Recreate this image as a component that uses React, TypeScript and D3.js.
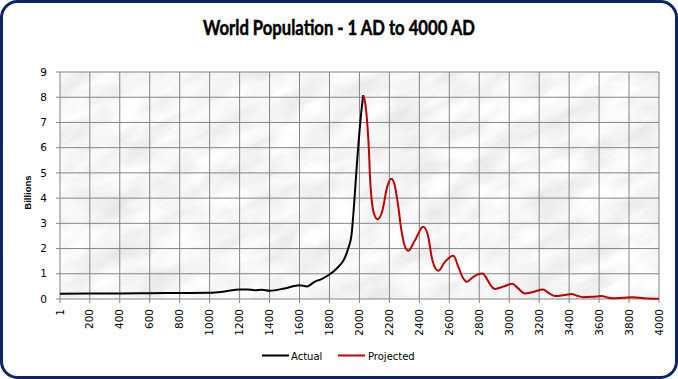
import React from "react";
import * as d3 from "d3";

const actualYears = [1, 200, 400, 600, 800, 1000, 1100, 1200, 1250, 1300, 1350, 1400, 1500, 1600, 1650, 1700, 1750, 1800, 1850, 1900, 1925, 1947, 1965, 1981, 2008, 2025];
const actualValues = [0.21, 0.22, 0.22, 0.23, 0.24, 0.25, 0.3, 0.38, 0.38, 0.35, 0.37, 0.33, 0.42, 0.55, 0.5, 0.68, 0.8, 0.97, 1.22, 1.6, 2.0, 2.53, 3.8, 5.17, 7.14, 8.08];

const projectedYears = [2025, 2044, 2055, 2064, 2070, 2081, 2097, 2121, 2154, 2185, 2214, 2236, 2258, 2282, 2300, 2326, 2371, 2426, 2460, 2482, 2500, 2526, 2571, 2627, 2660, 2690, 2716, 2760, 2822, 2849, 2875, 2905, 2960, 3020, 3060, 3105, 3160, 3227, 3260, 3305, 3360, 3417, 3450, 3494, 3560, 3617, 3650, 3694, 3760, 3828, 3900, 4000];
const projectedValues = [8.08, 7.53, 6.75, 5.82, 4.9, 3.98, 3.39, 3.16, 3.52, 4.44, 4.77, 4.5, 3.72, 2.66, 2.15, 1.91, 2.33, 2.86, 2.46, 1.67, 1.3, 1.12, 1.47, 1.71, 1.28, 0.85, 0.68, 0.88, 1.01, 0.82, 0.55, 0.4, 0.49, 0.6, 0.42, 0.22, 0.28, 0.38, 0.25, 0.12, 0.15, 0.2, 0.14, 0.07, 0.09, 0.12, 0.07, 0.03, 0.05, 0.07, 0.03, 0.01];

const xTickValues = [1, 200, 400, 600, 800, 1000, 1200, 1400, 1600, 1800, 2000, 2200, 2400, 2600, 2800, 3000, 3200, 3400, 3600, 3800, 4000];
const yTickValues = [0, 1, 2, 3, 4, 5, 6, 7, 8, 9];

const title = "World Population - 1 AD to 4000 AD";
const yTitle = "Billions";
const seriesNames = ["Actual", "Projected"];

export default function App() {
  const W = 678, H = 379;
  const left = 60, right = 659, top = 72, bottom = 299;
  const x = d3.scaleLinear().domain([1, 4000]).range([left, right]);
  const y = d3.scaleLinear().domain([0, 9]).range([bottom, top]);
  const line = d3.line<[number, number]>().x(d => x(d[0])).y(d => y(d[1])).curve(d3.curveMonotoneX);
  const actual = actualYears.map((yr, i) => [yr, actualValues[i]] as [number, number]);
  const projected = projectedYears.map((yr, i) => [yr, projectedValues[i]] as [number, number]);
  const font = "'DejaVu Sans', Tahoma, sans-serif";
  const grid = "#858585";
  return (
    <svg width={W} height={H} style={{ position: "absolute", left: 0, top: 0, background: "#fff" }}>
      <defs>
        <filter id="marble" x="0" y="0" width="100%" height="100%">
          <feTurbulence type="fractalNoise" baseFrequency="0.02 0.045" numOctaves={4} seed={11} />
          <feColorMatrix type="matrix" values="0.32 0 0 0 0.76  0.32 0 0 0 0.76  0.32 0 0 0 0.76  0 0 0 0 1" />
        </filter>
        <clipPath id="plotclip"><rect x={left} y={top} width={right - left} height={bottom - top} /></clipPath>
      </defs>
      <rect x={1.5} y={1.5} width={W - 3} height={H - 3} rx={16} ry={16} fill="#fff" stroke="#0c2466" strokeWidth={3} />
      <text x={339} y={35} textAnchor="middle" fontFamily="Lato, 'Open Sans', sans-serif" fontWeight="bold" fontSize={21} textLength={272} lengthAdjust="spacingAndGlyphs" fill="#000" stroke="#000" strokeWidth={0.5}>{title}</text>
      <g clipPath="url(#plotclip)">
        <g transform={`rotate(-25 ${(left + right) / 2} ${(top + bottom) / 2})`}>
          <rect x={left - 150} y={top - 200} width={right - left + 300} height={bottom - top + 400} filter="url(#marble)" />
        </g>
      </g>
      {xTickValues.map(t => (
        <line key={"gx" + t} x1={x(t)} x2={x(t)} y1={top} y2={bottom + 4} stroke={grid} strokeWidth={1} />
      ))}
      {yTickValues.map(t => (
        <line key={"gy" + t} x1={left - 4} x2={right} y1={y(t)} y2={y(t)} stroke={grid} strokeWidth={1} />
      ))}
      {yTickValues.map(t => (
        <text key={"ly" + t} x={47} y={y(t)} dy="0.35em" textAnchor="end" fontFamily={font} fontSize={10.5} fill="#000">{t}</text>
      ))}
      {xTickValues.map(t => (
        <text key={"lx" + t} transform={`translate(${x(t)},${bottom + 10}) rotate(-90)`} dy="0.35em" textAnchor="end" fontFamily={font} fontSize={10.5} fill="#000">{t}</text>
      ))}
      <text transform={`translate(31,${(top + bottom) / 2 + 7}) rotate(-90)`} textAnchor="middle" fontFamily="'Liberation Sans', Arial, sans-serif" fontWeight="bold" fontSize={9.5} fill="#000">{yTitle}</text>
      <path d={line(actual) || ""} fill="none" stroke="#000" strokeWidth={2} />
      <path d={line(projected) || ""} fill="none" stroke="#c00000" strokeWidth={2} />
      <line x1={262} x2={289} y1={355.5} y2={355.5} stroke="#000" strokeWidth={2} />
      <text x={291} y={359.5} fontFamily={font} fontSize={10} fill="#000">{seriesNames[0]}</text>
      <line x1={338} x2={365} y1={355.5} y2={355.5} stroke="#c00000" strokeWidth={2} />
      <text x={368} y={359.5} fontFamily={font} fontSize={10} fill="#000">{seriesNames[1]}</text>
    </svg>
  );
}
